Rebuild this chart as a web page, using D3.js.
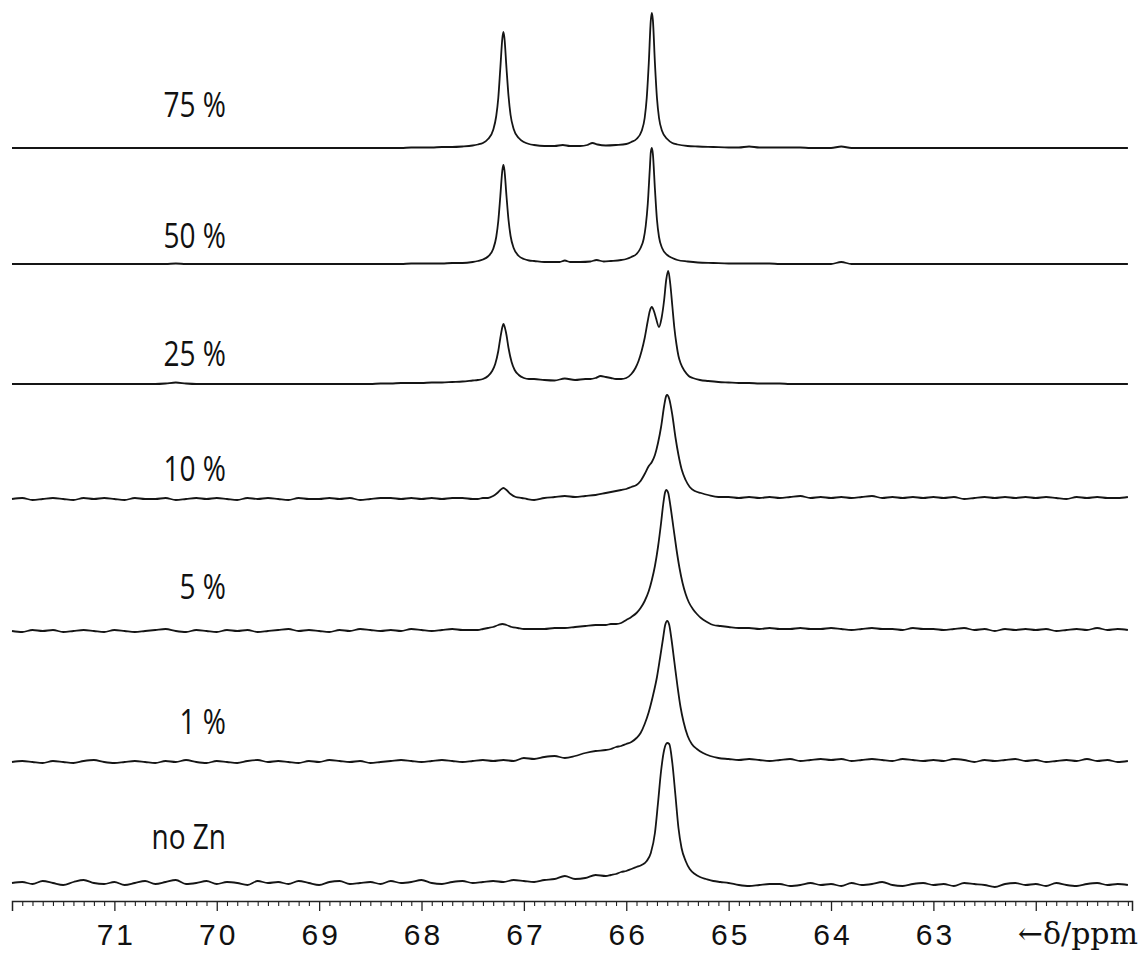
<!DOCTYPE html>
<html><head><meta charset="utf-8">
<script src="https://cdn.jsdelivr.net/npm/d3@7"></script>
<style>body{margin:0;background:#fff}svg{display:block}</style></head>
<body><svg id="c" width="1142" height="953"></svg>
<script>
// ---- DATA ----
const labels = ["75 %", "50 %", "25 %", "10 %", "5 %", "1 %", "no Zn"];
const tickLabels = [71, 70, 69, 68, 67, 66, 65, 64, 63];
const axisTitle = "\u2190\u03B4/ppm";
// coarse intensities on a 0.1 ppm grid from 72.0 to 61.1 ppm
const grid75 = [
 0,0,0,0,0,0,0,0,0,0,
 0,0,0,0,0,0,0,0,0,0,
 0,0,0,0,0,0,0,0,0,0,
 0,0,0,0,0,0,0,0,0,0.5,
 0.5,0.5,1,1,1.5,2.5,4,10,100,10,
 6,3,2,2,3,2,2,5,2.5,3,
 4,9,50,135,9,3.5,2,1.5,1,1,
 0.5,0.5,1.5,0.5,0.5,0.5,0.5,0.5,0,0,
 0,1.5,0,0,0,0,0,0,0,0,
 0,0,0,0,0,0,0,0,0,0,
 0,0,0,0,0,0,0,0,0,0];
const grid50 = [
 0,0,0,0,0,0,0,0,0,0,
 0,0,0,0,0,0,0.5,0,0,0,
 0,0,0,0,0,0,0,0,0,0,
 0,0,0,0,0,0,0,0,0,0.5,
 0.5,0.5,0.5,1,1,2,4,15,99,16,
 5,3,2,2,3,2,2,4,2.5,3,
 5,10,60,116,9,4,2.5,1.5,1,1,
 0.5,0.5,0.5,0.5,0.5,0,0,0,0,0,
 0,2,0,0,0,0,0,0,0,0,
 0,0,0,0,0,0,0,0,0,0,
 0,0,0,0,0,0,0,0,0,0];
const grid25 = [
 0,0,0,0,0,0,0,0,0,0,
 0,0,0,0,0,0.5,1.5,0.5,0,0,
 0,0,0,0,0,0,0,0,0,0,
 0,0,0,0,0,0,0.5,0.5,1,1,
 1,1.5,1.5,2,2.5,3.5,5,13,60,14,
 6,5,4,3.5,5.5,4,5,6,7,5,
 6,16,77,113,21,7,4,3,2,1.5,
 1.5,1,1,0.5,0.5,0.5,0,0,0,0,
 0,0,0,0,0,0,0,0,0,0,
 0,0,0,0,0,0,0,0,0,0,
 0,0,0,0,0,0,0,0,0,0];
const grid10 = [
 0,1,-1,0,1,0,-1,1,0,1,
 0,-1,1,0,0,1,-1,0,1,0,
 1,0,-1,1,0,1,0,-1,1,0,
 0,1,0,1,-1,0,1,1,0,1,
 0,1,0,1,1,0,1,3,11,5,
 0,-1,1,2,3,2,3,4,6,6,
 10,17,38,104,44,12,6,4,3,2,
 2,1,2,1,2,1,2,3,1,2,
 1,2,1,2,3,1,2,1,2,1,
 2,1,2,0,1,2,1,2,1,2,
 1,2,1,0,2,1,2,1,1,2];
const grid5 = [
 0,-1,1,0,1,-1,0,1,0,-1,
 1,0,-1,0,1,2,0,-1,1,0,
 -1,1,0,1,-1,0,1,2,0,1,
 0,-1,1,0,2,1,0,1,0,2,
 1,0,1,2,1,1,2,3,7,3,
 2,2,2,3,3,4,5,6,6,7,
 11,23,51,141,63,29,17,13,9,6,
 4,3,3,2,3,2,2,3,2,2,
 3,2,1,2,3,2,2,1,3,2,
 2,1,2,3,1,2,0,2,1,2,
 1,2,0,1,2,1,3,1,2,1];
const grid1 = [
 0,1,0,-1,1,0,-1,1,2,0,
 -1,0,1,0,-1,1,0,2,0,-1,
 1,0,-1,1,2,0,1,0,-1,1,
 0,2,1,0,1,-1,0,1,2,1,
 0,1,2,1,0,1,2,1,2,1,
 4,3,5,6,4,6,9,11,12,15,
 18,29,66,141,76,26,13,9,6,4,
 3,2,3,2,1,2,3,1,2,3,
 2,3,1,2,3,2,1,3,2,1,
 2,1,3,2,0,2,1,2,3,1,
 2,0,1,2,1,3,1,2,0,1];
const grid0 = [
 0,1,-1,2,0,-2,1,3,0,-1,
 1,-2,0,2,-1,1,3,-1,0,2,
 -1,1,0,-2,2,0,1,-1,2,0,
 -2,1,2,-1,0,1,-1,2,0,1,
 3,0,-1,1,2,0,1,2,1,3,
 2,1,3,4,7,4,5,8,7,9,
 13,20,50,138,88,22,9,6,4,2,
 0,-2,-3,-2,-1,-1,-3,-2,0,-2,
 -1,-3,0,-2,-1,1,-2,-3,-1,0,
 -2,-1,-3,0,-1,-2,-4,-1,0,-2,
 -1,-3,0,-2,-3,-1,0,-2,-1,-2];
// fine peak detail: [ppm, intensity]
const peaks75 = [
 [[67.7,1],[67.6,1.5],[67.5,2.5],[67.45,3.5],[67.4,5],[67.35,9],[67.3,18],[67.27,32],[67.25,50],[67.23,80],[67.21,110],[67.2,116],[67.19,110],[67.17,80],[67.15,52],[67.13,33],[67.1,19],[67.05,10],[67.0,6],[66.95,4],[66.9,3]],
 [[66.8,2],[66.7,2],[66.62,3],[66.55,2],[66.45,2],[66.38,3],[66.33,5],[66.28,3.5],[66.2,2.5],[66.1,3],[66.0,4],[65.95,6],[65.9,9],[65.85,17],[65.82,30],[65.8,50],[65.78,85],[65.76,128],[65.75,135],[65.74,128],[65.72,85],[65.7,50],[65.68,30],[65.65,17],[65.6,9],[65.55,5],[65.5,3.5],[65.4,2],[65.3,1.5],[65.15,1],[65.0,0.5]]];
const peaks50 = [
 [[67.6,1],[67.5,2],[67.45,3],[67.4,4.5],[67.35,7.5],[67.3,15],[67.27,27],[67.25,43],[67.23,68],[67.21,94],[67.2,99],[67.19,94],[67.17,68],[67.15,44],[67.13,28],[67.1,16],[67.05,8],[67.0,5],[66.95,3.5]],
 [[66.75,2],[66.65,2],[66.6,3.5],[66.55,2],[66.45,2],[66.35,2.5],[66.29,4],[66.22,2.5],[66.15,3],[66.05,4],[66.0,5],[65.95,7],[65.9,10],[65.86,16],[65.83,25],[65.81,38],[65.79,60],[65.77,95],[65.76,112],[65.75,116],[65.74,110],[65.72,75],[65.7,44],[65.68,27],[65.65,16],[65.6,9],[65.55,6],[65.5,4],[65.4,2.5],[65.3,1.5],[65.15,1],[65.0,0.5]]];
const peaks25 = [
 [[67.45,4],[67.4,5],[67.35,8],[67.31,13],[67.28,20],[67.25,33],[67.23,46],[67.21,57],[67.2,60],[67.19,58],[67.17,49],[67.15,36],[67.12,22],[67.09,14],[67.05,9],[67.0,6],[66.95,5]],
 [[66.35,5],[66.3,6],[66.25,8],[66.2,7],[66.15,6],[66.1,5],[66.05,5],[66.0,6],[65.95,10],[65.91,16],[65.88,23],[65.85,33],[65.82,46],[65.79,63],[65.77,73],[65.75,77],[65.73,73],[65.71,66],[65.68,57],[65.655,66],[65.63,84],[65.61,104],[65.59,113],[65.57,100],[65.55,78],[65.53,56],[65.51,40],[65.49,28],[65.47,21],[65.43,13],[65.39,8],[65.35,6],[65.28,4],[65.2,3],[65.1,2]]];
const peaks10 = [
 [[67.45,0],[67.4,1],[67.35,1],[67.3,3],[67.26,6],[67.23,9],[67.2,11],[67.17,9],[67.13,5],[67.08,2],[67.02,1],[66.97,0]],
 [[66.15,7],[66.1,8],[66.05,9],[66.0,10],[65.95,12],[65.9,14],[65.86,18],[65.82,25],[65.78,33],[65.75,37],[65.72,44],[65.69,56],[65.66,72],[65.63,93],[65.61,103],[65.6,104],[65.58,100],[65.55,84],[65.52,62],[65.49,44],[65.46,30],[65.42,19],[65.38,12],[65.33,8],[65.27,6],[65.2,4],[65.1,2]]];
const peaks5 = [
 [[67.45,1],[67.4,2],[67.35,3],[67.3,4],[67.25,6],[67.21,7],[67.17,6],[67.12,4],[67.06,3],[67.0,2]],
 [[66.15,7],[66.1,7],[66.05,8],[66.0,11],[65.95,14],[65.9,18],[65.86,23],[65.82,30],[65.78,40],[65.75,51],[65.72,65],[65.69,84],[65.66,108],[65.64,126],[65.62,139],[65.61,141],[65.59,138],[65.57,126],[65.54,104],[65.51,82],[65.48,63],[65.45,48],[65.42,37],[65.39,29],[65.35,22],[65.31,17],[65.27,13],[65.21,9],[65.15,6],[65.08,5]]];
const peaks1 = [
 [[66.15,13],[66.1,15],[66.05,16],[66.0,18],[65.95,20],[65.9,24],[65.86,29],[65.82,38],[65.78,50],[65.74,66],[65.7,85],[65.67,104],[65.64,124],[65.62,137],[65.6,141],[65.58,137],[65.56,124],[65.53,100],[65.5,76],[65.47,55],[65.44,40],[65.4,26],[65.36,18],[65.31,13],[65.25,9],[65.18,6],[65.1,4]]];
const peaks0 = [
 [[66.15,8],[66.1,9],[66.05,11],[66.0,12],[65.95,14],[65.9,16],[65.85,18],[65.8,22],[65.76,30],[65.72,50],[65.69,80],[65.66,112],[65.63,133],[65.6,140],[65.58,139],[65.55,120],[65.52,88],[65.49,55],[65.46,35],[65.42,22],[65.38,14],[65.33,9],[65.28,6],[65.22,4],[65.15,2],[65.08,1]]];

const grids = [grid75, grid50, grid25, grid10, grid5, grid1, grid0];
const peakSets = [peaks75, peaks50, peaks25, peaks10, peaks5, peaks1, peaks0];

// ---- LAYOUT ----
const baselines = [148, 264, 384, 499, 631, 762, 883];
const labelY = [117, 248, 366, 481, 599, 734, 849];
const axisY = 901;
const svg = d3.select("#c");
const x = d3.scaleLinear().domain([72.0, 61.06]).range([12, 1132]);
const y = d3.scaleLinear().domain([0, 150]).range([0, -150]);

function series(grid, pk) {
  const ranges = pk.map(p => [d3.min(p, d => d[0]), d3.max(p, d => d[0])]);
  const pts = [];
  grid.forEach((v, i) => {
    const ppm = +(72.0 - i * 0.1).toFixed(2);
    if (!ranges.some(r => ppm >= r[0] - 1e-9 && ppm <= r[1] + 1e-9)) pts.push([ppm, v]);
  });
  pk.forEach(p => p.forEach(d => pts.push(d)));
  pts.sort((a, b) => b[0] - a[0]);
  return pts;
}
const line = d3.line().x(d => x(d[0])).y(d => y(d[1])).curve(d3.curveMonotoneX);

grids.forEach((g, k) => {
  const gg = svg.append("g").attr("transform", `translate(0,${baselines[k]})`);
  gg.append("path").attr("d", line(series(g, peakSets[k])))
    .attr("fill", "none").attr("stroke", "#151515").attr("stroke-width", 1.8)
    .attr("stroke-linejoin", "round");
  svg.append("text").attr("transform", `translate(226,${labelY[k]}) scale(0.8,1)`)
    .attr("text-anchor", "end").attr("font-family", "'Open Sans', sans-serif")
    .attr("font-size", 35).attr("fill", "#111").text(labels[k]);
});

// axis
const major = svg.append("g").attr("transform", `translate(0,${axisY})`)
  .call(d3.axisBottom(x).tickValues(d3.range(62, 72)).tickSize(10).tickSizeOuter(10)
    .tickFormat(d => tickLabels.includes(d) ? d3.format("d")(d) : ""));
major.select(".domain").attr("stroke", "#222").attr("stroke-width", 1.5);
major.selectAll(".tick line").attr("stroke", "#222").attr("stroke-width", 1.3);
major.selectAll(".tick text").attr("y", 44).attr("dy", 0).attr("dx", 1.5)
  .attr("font-family", "'Liberation Sans', sans-serif").attr("font-size", 30)
  .attr("letter-spacing", 3).attr("fill", "#111");
const minorVals = d3.range(720, 610, -1).map(v => v / 10).filter(v => Math.abs(v - Math.round(v)) > 1e-6);
const minor = svg.append("g").attr("transform", `translate(0,${axisY})`)
  .call(d3.axisBottom(x).tickValues(minorVals).tickSize(5).tickSizeOuter(0).tickFormat(""));
minor.select(".domain").remove();
minor.selectAll(".tick line").attr("stroke", "#222").attr("stroke-width", 1.1);

svg.append("text").attr("x", 1138).attr("y", 944).attr("text-anchor", "end")
  .attr("font-family", "'DejaVu Serif', serif").attr("font-size", 30).attr("fill", "#111")
  .text(axisTitle);
</script>
</body></html>
